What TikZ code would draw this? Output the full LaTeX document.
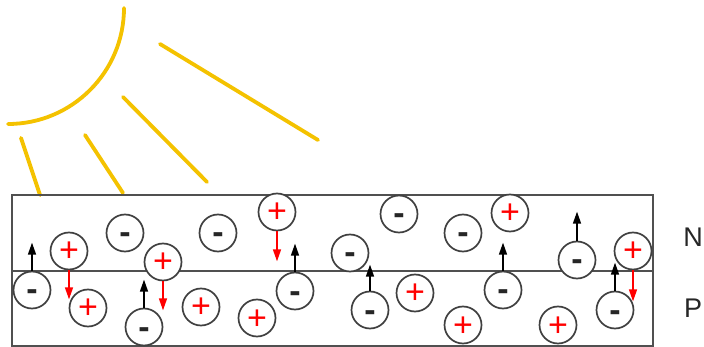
\documentclass[tikz,border=0pt]{standalone}
\usepackage{fontspec}
\setmainfont{Liberation Sans}
\usetikzlibrary{arrows.meta}
\definecolor{sunYellow}{HTML}{F4C200}
\definecolor{cellGray}{HTML}{505050}
\definecolor{holeRed}{HTML}{FF0000}

\begin{document}
\begin{tikzpicture}[x=1pt,y=-1pt,
  ray/.style={draw=sunYellow,line width=3.8pt,line cap=round},
  cell/.style={draw=cellGray,line width=2.1pt},
  carrier/.style={circle,draw=black!75,line width=1.7pt,fill=white,minimum size=37pt,
                  inner sep=0pt,text height=22pt,text depth=0pt,font=\fontsize{34}{34}\selectfont},
  elec/.style={carrier,text=black!85,font=\fontsize{34}{34}\selectfont\bfseries},
  hole/.style={carrier,text=holeRed},
  eup/.style={-{Triangle[width=8pt,length=12pt]},line width=1.5pt,black},
  hdown/.style={-{Triangle[width=8pt,length=12pt]},line width=1.5pt,holeRed},
  side/.style={font=\fontsize{27}{27}\selectfont,text=black!85},
]
  \useasboundingbox (0,0) rectangle (704,347);

  % sun
  \draw[ray] (124,8) arc[start angle=0,end angle=90,radius=116];
  \draw[ray] (21,138) -- (40,195);
  \draw[ray] (85,135) -- (123,193);
  \draw[ray] (123,97) -- (207,182);
  \draw[ray] (160,44) -- (318,140);

  % junction
  \draw[cell] (12,195) rectangle (653,346);
  \draw[cell] (12,271) -- (653,271);

  \node[side] (nside) at (693,237) {N};
  \node[side] (pside) at (693,308) {P};

  % electrons
  \node[elec] (n1)  at (125,233) {-};
  \node[elec] (n2)  at (218,233) {-};
  \node[elec] (n3)  at (32,290)  {-};
  \node[elec] (n4)  at (144,327) {-};
  \node[elec] (n5)  at (295,291) {-};
  \node[elec] (n6)  at (399,214) {-};
  \node[elec] (n7)  at (350,253) {-};
  \node[elec] (n8)  at (370,310) {-};
  \node[elec] (n9)  at (463,233) {-};
  \node[elec] (n10) at (503,290) {-};
  \node[elec] (n11) at (577,260) {-};
  \node[elec] (n12) at (615,310) {-};

  % holes
  \node[hole] (p1)  at (69,251)  {+};
  \node[hole] (p2)  at (163,262) {+};
  \node[hole] (p3)  at (88,308)  {+};
  \node[hole] (p4)  at (201,307) {+};
  \node[hole] (p5)  at (277,212) {+};
  \node[hole] (p6)  at (257,318) {+};
  \node[hole] (p7)  at (415,293) {+};
  \node[hole] (p8)  at (463,325) {+};
  \node[hole] (p9)  at (510,213) {+};
  \node[hole] (p10) at (558,325) {+};
  \node[hole] (p11) at (633,251) {+};

  \draw[eup] (n3.north)  -- ++(0,-28);
  \draw[eup] (n4.north)  -- ++(0,-28);
  \draw[eup] (n5.north)  -- ++(0,-28);
  \draw[eup] (n8.north)  -- ++(0,-26);
  \draw[eup] (n10.north) -- ++(0,-28);
  \draw[eup] (n11.north) -- ++(0,-29);
  \draw[eup] (n12.north) -- ++(0,-28);

  \draw[hdown] (p1.south)  -- ++(0,29);
  \draw[hdown] (p2.south)  -- ++(0,29);
  \draw[hdown] (p5.south)  -- ++(0,30);
  \draw[hdown] (p11.south) -- ++(0,31);
\end{tikzpicture}
\end{document}
